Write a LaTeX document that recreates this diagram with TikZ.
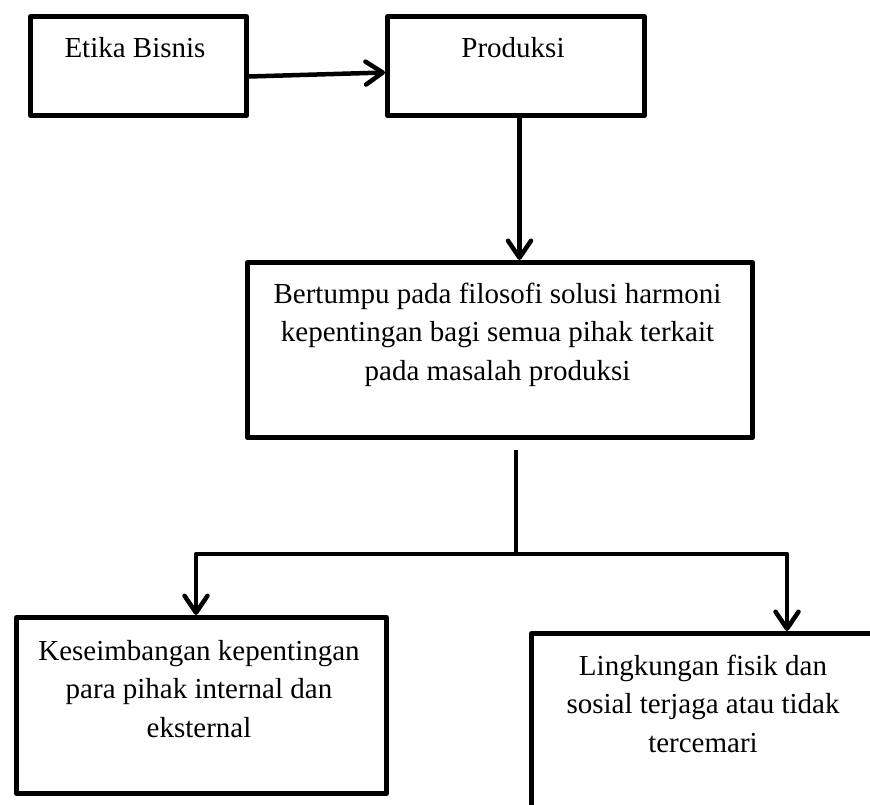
\documentclass[tikz,border=0pt]{standalone}
\usepackage{fontspec}
\setmainfont{Liberation Serif}
\usetikzlibrary{arrows.meta}
\begin{document}
\begin{tikzpicture}[x=1pt,y=-1pt,
  box/.style={draw=black, line width=5pt, line join=round, rectangle, inner sep=0pt, anchor=north west},
  txt/.style={inner sep=0pt, anchor=base, align=center, font=\fontsize{29}{38.5}\selectfont},
  conn/.style={draw=black, line width=4.5pt, line join=round},
  arr/.style={conn, -{Straight Barb[length=17pt,width=23pt,round]}}]
\useasboundingbox (0,0) rectangle (870,805);
\clip (0,0) rectangle (870,805);
% boxes
\node[box, minimum width=216pt, minimum height=99pt] (b1) at (28,14) {};
\node[box, minimum width=257pt, minimum height=99pt] (b2) at (385,14) {};
\node[box, minimum width=505pt, minimum height=175pt] (b3) at (245,260) {};
\node[box, minimum width=370pt, minimum height=176pt] (b4) at (14,615) {};
\node[box, minimum width=360pt, minimum height=200pt] (b5) at (529,631) {};
% texts (anchor base = baseline of the last line)
\node[txt] (t1) at (135,58) {Etika Bisnis};
\node[txt] (t2) at (513,58) {Produksi};
\node[txt] (t3) at (497.5,380) {Bertumpu pada filosofi solusi harmoni\\kepentingan bagi semua pihak terkait\\pada masalah produksi};
\node[txt] (t4) at (199,737) {Keseimbangan kepentingan\\para pihak internal dan\\eksternal};
\node[txt] (t5) at (703,752) {Lingkungan fisik dan\\sosial terjaga atau tidak\\tercemari};
% connectors
\draw[arr] ([yshift=-10.5pt]b1.east) -- ([yshift=-6.5pt]b2.west);
\draw[arr] ([xshift=3.5pt]b2.south) -- ([xshift=3.5pt]b2.south |- b3.north);
\coordinate (split) at (516,554);
\coordinate (lt) at (196,554);
\coordinate (rt) at (787,554);
\draw[conn] ([yshift=-10pt]b3.south -| split) -- (split);
\draw[arr] (split) -- (lt) -- (lt |- b4.north);
\draw[arr] (split) -- (rt) -- (rt |- b5.north);
\end{tikzpicture}
\end{document}
